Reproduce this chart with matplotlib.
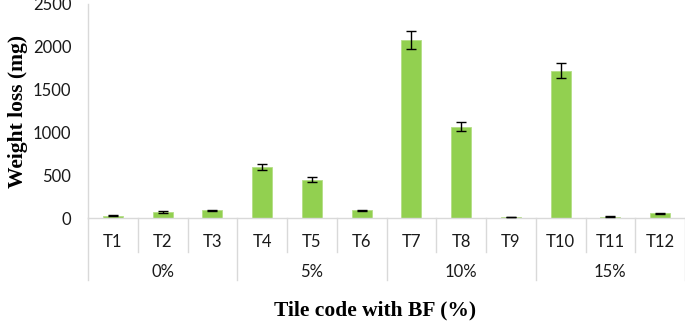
import numpy as np
import matplotlib
matplotlib.use("Agg")
import matplotlib.pyplot as plt

# data
tiles = ["T1", "T2", "T3", "T4", "T5", "T6", "T7", "T8", "T9", "T10", "T11", "T12"]
groups = ["0%", "5%", "10%", "15%"]
weight_loss = [30, 73, 93, 598, 452, 93, 2078, 1070, 15, 1718, 18, 58]
err = [6, 7, 7, 33, 25, 7, 106, 56, 4, 87, 4, 6]

grid_c = "#d9d9d9"
bar_c = "#92D050"

fig = plt.figure(figsize=(6.85, 3.22), dpi=100)
ax = fig.add_axes([0.1285, 0.322, 0.8715, 0.666])

x = np.arange(len(tiles))
ax.bar(x, weight_loss, width=0.4, color=bar_c, edgecolor="#b4de86", linewidth=0.6, zorder=2)
ax.errorbar(x, weight_loss, yerr=err, fmt="none", ecolor="black", elinewidth=1.0,
            capsize=3.6, capthick=1.0, zorder=3)

ax.set_xlim(-0.5, len(tiles) - 0.5)
ax.set_ylim(0, 2500)
ax.set_yticks([0, 500, 1000, 1500, 2000, 2500])
ax.tick_params(axis="y", length=0, pad=12, labelsize=12, labelcolor="#1a1a1a")
ax.set_xticks([])
for lbl in ax.get_yticklabels():
    lbl.set_fontfamily("Lato")

for s in ["top", "right"]:
    ax.spines[s].set_visible(False)
ax.spines["left"].set_color(grid_c)
ax.spines["bottom"].set_color(grid_c)
ax.spines["left"].set_linewidth(1.0)
ax.spines["bottom"].set_linewidth(1.0)

# category axis: tile labels, group labels and separator lines
tr = ax.get_xaxis_transform()
for i, t in enumerate(tiles):
    ax.text(i, -0.11, t, transform=tr, ha="center", va="center", fontsize=12,
            family="Lato", color="#1a1a1a")
for k in range(len(tiles) + 1):
    b = k - 0.5
    low = -0.286 if k % 3 == 0 else -0.156
    ax.plot([b, b], [0, low], transform=tr, color=grid_c, lw=1.0, clip_on=False)
for g, name in enumerate(groups):
    ax.text(3 * g + 1, -0.25, name, transform=tr, ha="center", va="center",
            fontsize=12, family="Lato", color="#1a1a1a")

fig.text(0.026, 0.655, "Weight loss (mg)", rotation=90, ha="center", va="center",
         fontsize=15.5, fontweight="bold", family="Liberation Serif")
fig.text(0.548, 0.035, "Tile code with BF (%)", ha="center", va="center",
         fontsize=15.5, fontweight="bold", family="Liberation Serif")

fig.savefig("out.png", dpi=100)
